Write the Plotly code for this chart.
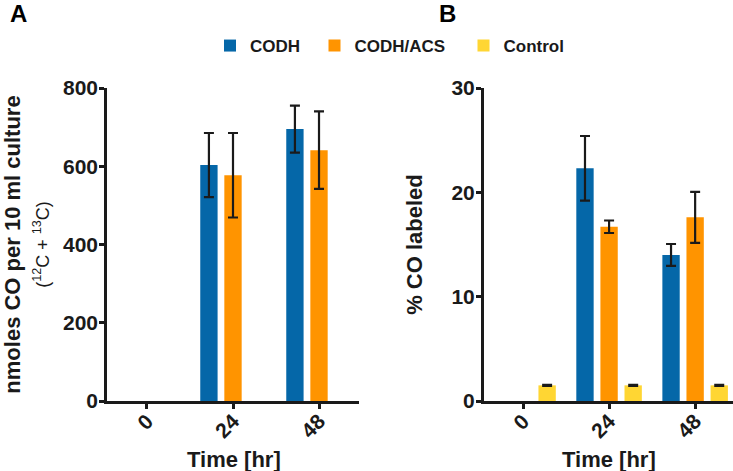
import plotly.graph_objects as go

# ---------------- data ----------------
times = ["0", "24", "48"]
series_names = ["CODH", "CODH/ACS", "Control"]
series_colors = ["#0567A8", "#FF9400", "#FFD633"]

# Panel A: nmoles CO per 10 ml culture (12C + 13C); no CO at 0 hr
a_codh = [None, 603, 695]
a_codh_err = [0, 82, 60]
a_acs = [None, 577, 641]
a_acs_err = [0, 108, 99]
a_ctrl = [0, 0, 0]

# Panel B: % CO labeled
b_codh = [None, 22.3, 14.0]
b_codh_err = [0, 3.1, 1.05]
b_acs = [None, 16.7, 17.6]
b_acs_err = [0, 0.6, 2.45]
b_ctrl = [1.5, 1.5, 1.5]
b_ctrl_err = [0.05, 0.05, 0.05]

W, H = 733, 471
FONT = "Liberation Sans, Arial, Helvetica, sans-serif"
INK = "#1a1a1a"


def PX(px):
    return px / W


def PY(py):
    return 1 - py / H


fig = go.Figure()


def add_bar(x, y, err, name, color, xa, ya, legend, show):
    fig.add_trace(go.Bar(
        x=x, y=y, name=name,
        marker=dict(color=color, line=dict(width=0)),
        error_y=dict(type="data", array=err if err is not None else [0, 0, 0],
                     visible=err is not None,
                     color=INK, thickness=2.2, width=5),
        xaxis=xa, yaxis=ya, legend=legend, showlegend=show,
    ))


legends = ["legend", "legend2", "legend3"]
a_vals = [(a_codh, a_codh_err), (a_acs, a_acs_err), (a_ctrl, None)]
b_vals = [(b_codh, b_codh_err), (b_acs, b_acs_err), (b_ctrl, b_ctrl_err)]
for i, name in enumerate(series_names):
    add_bar(times, a_vals[i][0], a_vals[i][1], name, series_colors[i], "x", "y", legends[i], True)
for i, name in enumerate(series_names):
    add_bar(times, b_vals[i][0], b_vals[i][1], name, series_colors[i], "x2", "y2", legends[i], False)

axis_common = dict(
    showline=True, linecolor=INK, linewidth=2.5,
    ticks="outside", ticklen=5, tickwidth=2.5, tickcolor=INK,
    showgrid=False, zeroline=False, automargin=False,
    tickfont=dict(family=FONT, size=21, color=INK, weight="bold"),
)

ydom = [PY(401), PY(88)]
xdomA = [PX(107), PX(359)]
xdomB = [PX(483.7), PX(733)]

fig.update_layout(
    width=W, height=H,
    margin=dict(l=0, r=0, t=0, b=0, autoexpand=False),
    plot_bgcolor="white", paper_bgcolor="white",
    barmode="group", bargap=0.16, bargroupgap=0.28,
    font=dict(family=FONT, color=INK),
    xaxis=dict(axis_common, domain=xdomA, type="category",
               range=[-0.465, 2.465], tickangle=-45, anchor="y",
               ticklabelstandoff=-8),
    yaxis=dict(axis_common, domain=ydom, range=[0, 800], dtick=200, anchor="x",
               ticklabelstandoff=-3,
               title=dict(text="nmoles CO per 10 ml culture<br><span style='font-size:18px;font-weight:normal'>(<sup>12</sup>C + <sup>13</sup>C)</span>",
                          standoff=33,
                          font=dict(family=FONT, size=22, weight="bold", color=INK))),
    xaxis2=dict(axis_common, domain=xdomB, type="category",
                range=[-0.457, 2.44], tickangle=-45, anchor="y2",
                ticklabelstandoff=-8),
    yaxis2=dict(axis_common, domain=ydom, range=[0, 30], dtick=10, anchor="x2",
                ticklabelstandoff=-3,
                title=dict(text="% CO labeled", standoff=23,
                           font=dict(family=FONT, size=22, weight="bold", color=INK))),
)

legend_x = [210, 314.5, 463.5]
for lg, lx in zip(legends, legend_x):
    fig.update_layout({lg: dict(
        x=PX(lx), xanchor="left", y=PY(46), yanchor="middle",
        orientation="h", bgcolor="rgba(0,0,0,0)",
        font=dict(family=FONT, size=17, color=INK, weight="bold"),
    )})

# x-axis titles
for xc in [234, 608.5]:
    fig.add_annotation(text="Time [hr]", x=PX(xc), y=PY(459), xref="paper", yref="paper",
                       xanchor="center", yanchor="middle", showarrow=False,
                       font=dict(family=FONT, size=22, weight="bold", color=INK))

# panel letters
for lab, lx in [("A", 8), ("B", 437)]:
    fig.add_annotation(text=lab, x=PX(lx), y=PY(13.5), xref="paper", yref="paper",
                       xanchor="left", yanchor="middle", showarrow=False,
                       font=dict(family=FONT, size=24, weight="bold", color="black"))

fig.write_html("out.html", config={"displayModeBar": False},
               post_script="document.body.style.margin='0px';")
